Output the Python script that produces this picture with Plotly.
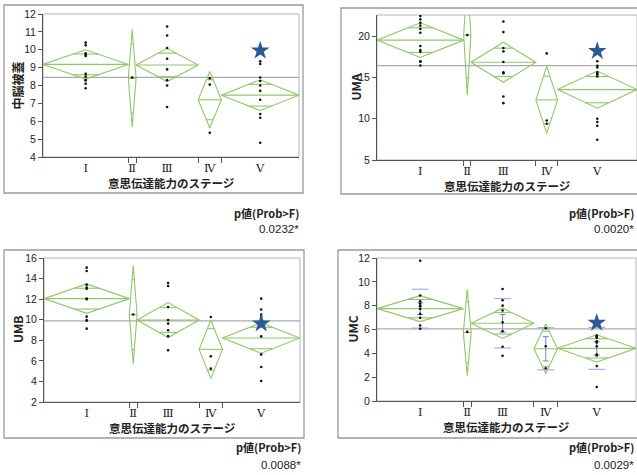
import math
import plotly.graph_objects as go

W, H = 637, 475

# ---------------- data ----------------
stages = ["Ⅰ", "Ⅱ", "Ⅲ", "Ⅳ", "Ⅴ"]

# Panel A: 中脳被蓋
a_n = [11, 1, 8, 3, 10]
a_mean = [9.18, 8.4, 9.15, 7.2, 7.46]
a_ci = [0.82, 2.73, 0.93, 1.58, 0.86]
a_grand = 8.45
a_star = 9.95
a_pts = [
    [10.4, 10.25, 9.8, 9.7, 9.65, 8.65, 8.5, 8.3, 8.3, 8.1, 7.85],
    [8.45],
    [11.3, 10.8, 10.1, 9.5, 8.9, 8.3, 8.0, 6.8],
    [8.4, 8.05, 5.35],
    [9.35, 9.2, 8.45, 8.25, 8.0, 7.7, 7.2, 6.4, 6.2, 4.8],
]
a_p = "0.0232*"

# Panel B: UMA
b_n = [12, 1, 9, 3, 11]
b_mean = [19.51, 20.12, 16.83, 12.28, 13.52]
b_ci = [2.1, 7.27, 2.42, 4.05, 2.25]
b_grand = 16.42
b_star = 18.18
b_pts = [
    [22.43, 22.02, 21.62, 21.26, 20.85, 20.4, 18.79, 18.3, 18.1, 16.96, 16.9, 16.44],
    [20.12],
    [21.77, 20.48, 18.55, 18.15, 16.86, 15.6, 15.5, 12.68, 11.88],
    [17.9, 9.78, 9.38],
    [16.95, 16.4, 16.2, 15.4, 15.35, 15.1, 10.0, 9.6, 9.15, 7.45, 15.6],
]
b_p = "0.0020*"

# Panel C: UMB
c_n = [11, 1, 8, 3, 10]
c_mean = [12.05, 10.5, 9.97, 7.12, 8.22]
c_ci = [1.43, 4.8, 1.7, 2.85, 1.47]
c_grand = 9.88
c_star = 9.62
c_pts = [
    [15.06, 14.74, 13.41, 13.12, 13.0, 12.05, 12.0, 10.3, 9.97, 9.9, 9.13],
    [10.5],
    [13.57, 13.28, 11.24, 9.97, 9.62, 8.97, 8.4, 7.03],
    [10.26, 6.44, 5.24],
    [12.05, 11.0, 10.5, 10.3, 9.95, 9.7, 8.38, 6.63, 5.4, 4.04],
]
c_p = "0.0088*"

# Panel D: UMC
d_n = [11, 1, 8, 3, 10]
d_mean = [7.75, 5.75, 6.52, 4.38, 4.42]
d_ci = [1.09, 3.62, 1.27, 2.08, 1.14]
d_grand = 6.06
d_star = 6.56
d_pts = [
    [11.77, 8.85, 8.37, 8.18, 8.0, 7.95, 7.73, 7.31, 6.98, 6.33, 6.06],
    [5.8],
    [9.4, 8.45, 8.0, 7.6, 6.6, 5.85, 4.55, 3.8],
    [6.1, 4.6, 2.75],
    [5.5, 5.44, 5.3, 5.02, 4.9, 4.6, 3.82, 3.9, 2.93, 1.17],
]
d_sd = [1.63, None, 2.07, 1.77, 1.76]
d_se = [0.49, None, 0.73, 1.02, 0.56]
d_p = "0.0029*"

# ---------------- style ----------------
GREEN = "#90C76C"
GRAY = "#ABABAB"
AXIS = "#555555"
STAR = "#2C5A97"
LAV = "#A4A4E4"
LAV2 = "#7C7CCC"
FONT = "Liberation Sans, Arial, sans-serif"
CJK = "Noto Sans CJK JP"

panels = [
    dict(title="<b>中脳被蓋</b>", n=a_n, mean=a_mean, ci=a_ci, grand=a_grand, star=a_star, pts=a_pts, p=a_p,
         yr=[4, 12], ytv=[4, 5, 6, 7, 8, 9, 10, 11, 12], px=(43, 299), py=(14, 157),
         frame=(4, 5, 303, 193), ytitle_x=17, ptext=(301, 213, 229)),
    dict(title="<b>UMA</b>", n=b_n, mean=b_mean, ci=b_ci, grand=b_grand, star=b_star, pts=b_pts, p=b_p,
         yr=[5, 22.55], ytv=[5, 10, 15, 20], px=(377, 637), py=(15, 160),
         frame=(341, 8, 645, 194), ytitle_x=355, ptext=(636, 213, 229)),
    dict(title="<b>UMB</b>", n=c_n, mean=c_mean, ci=c_ci, grand=c_grand, star=c_star, pts=c_pts, p=c_p,
         yr=[2, 16], ytv=[2, 4, 6, 8, 10, 12, 14, 16], px=(44, 300), py=(258, 402),
         frame=(4, 250, 304, 438), ytitle_x=17, ptext=(303, 447, 465)),
    dict(title="<b>UMC</b>", n=d_n, mean=d_mean, ci=d_ci, grand=d_grand, star=d_star, pts=d_pts, p=d_p,
         yr=[0, 12], ytv=[0, 2, 4, 6, 8, 10, 12], px=(377, 636), py=(258, 401),
         frame=(338, 250, 645, 438), ytitle_x=352, ptext=(636, 447, 465),
         sd=d_sd, se=d_se),
]

fig = go.Figure()
shapes = []
annotations = []
k = 1 - 1 / math.sqrt(2)

for i, p in enumerate(panels):
    sfx = "" if i == 0 else str(i + 1)
    xa, ya = "x" + sfx, "y" + sfx
    n = p["n"]
    total = sum(n)
    bounds = [0]
    for v in n:
        bounds.append(bounds[-1] + v)
    centers = [(bounds[j] + bounds[j + 1]) / 2 for j in range(len(n))]

    # grand mean line
    fig.add_trace(go.Scatter(x=[0, total], y=[p["grand"], p["grand"]], mode="lines",
                             line=dict(color=GRAY, width=1.2), xaxis=xa, yaxis=ya,
                             showlegend=False, hoverinfo="skip"))
    # diamonds
    dx, dy = [], []
    for j in range(len(n)):
        l, r, c = bounds[j], bounds[j + 1], centers[j]
        m, ci = p["mean"][j], p["ci"][j]
        dx += [l, c, r, c, l, None, l, r, None]
        dy += [m, m + ci, m, m - ci, m, None, m, m, None]
        hw = k * (r - l) / 2
        for s in (1, -1):
            dx += [c - hw, c + hw, None]
            dy += [m + s * ci / math.sqrt(2)] * 2 + [None]
    fig.add_trace(go.Scatter(x=dx, y=dy, mode="lines", line=dict(color=GREEN, width=1.1),
                             xaxis=xa, yaxis=ya, showlegend=False, hoverinfo="skip"))

    # std dev lines and error bars (UMC)
    if "sd" in p:
        sx, sy, ex, ey, ee = [], [], [], [], []
        for j in range(len(n)):
            if p["sd"][j] is None:
                continue
            sx += [centers[j], centers[j]]
            sy += [p["mean"][j] + p["sd"][j], p["mean"][j] - p["sd"][j]]
            ex.append(centers[j])
            ey.append(p["mean"][j])
            ee.append(p["se"][j])
        fig.add_trace(go.Scatter(x=sx, y=sy, mode="markers",
                                 marker=dict(symbol="line-ew", size=12, line=dict(color=LAV, width=1.1)),
                                 xaxis=xa, yaxis=ya, showlegend=False, hoverinfo="skip"))
        fig.add_trace(go.Scatter(x=ex, y=ey, mode="markers", marker=dict(size=1, color="rgba(0,0,0,0)"),
                                 error_y=dict(type="data", array=ee, color=LAV2, thickness=1, width=3),
                                 xaxis=xa, yaxis=ya, showlegend=False, hoverinfo="skip"))

    # points
    px_, py_ = [], []
    for j in range(len(n)):
        for v in p["pts"][j]:
            px_.append(centers[j])
            py_.append(v)
    fig.add_trace(go.Scatter(x=px_, y=py_, mode="markers", marker=dict(size=2.6, color="#111111"),
                             xaxis=xa, yaxis=ya, showlegend=False, hoverinfo="skip"))
    # star
    fig.add_trace(go.Scatter(x=[centers[4]], y=[p["star"]], mode="markers",
                             marker=dict(symbol="star", size=14, color=STAR),
                             xaxis=xa, yaxis=ya, showlegend=False, hoverinfo="skip", cliponaxis=False))

    x0, x1 = p["px"]
    y0, y1 = p["py"]
    fig.layout["xaxis" + sfx] = dict(
        domain=[x0 / W, x1 / W], anchor=ya, range=[0, total], showgrid=False, zeroline=False,
        showline=True, linecolor=AXIS, linewidth=1,
        tickmode="array", tickvals=centers, ticktext=stages, ticks="outside", ticklen=0,
        tickfont=dict(family="DejaVu Serif, Liberation Serif, serif", size=11.5, color="#222"),
        minor=dict(tickmode="array", tickvals=bounds[1:-1], ticks="outside", ticklen=5,
                   tickcolor=AXIS, tickwidth=1, showgrid=False),
        fixedrange=True, automargin=False,
    )
    fig.layout["yaxis" + sfx] = dict(
        domain=[1 - y1 / H, 1 - y0 / H], anchor=xa, range=p["yr"], showgrid=False, zeroline=False,
        showline=True, linecolor=AXIS, linewidth=1, tickmode="array", tickvals=p["ytv"],
        ticks="outside", ticklen=4, tickcolor=AXIS,
        tickfont=dict(family=FONT, size=10.5, color="#222"), fixedrange=True, automargin=False,
    )
    # plot frame (top/right)
    shapes.append(dict(type="rect", xref=xa + " domain", yref=ya + " domain", x0=0, x1=1, y0=0, y1=1,
                       line=dict(color="#B5B5B5", width=1), layer="below"))
    # outer panel frame
    fx0, fy0, fx1, fy1 = p["frame"]
    shapes.append(dict(type="rect", xref="paper", yref="paper", x0=fx0 / W, x1=fx1 / W,
                       y0=1 - fy1 / H, y1=1 - fy0 / H, line=dict(color="#9A9A9A", width=1.3)))
    # titles
    annotations.append(dict(text=p["title"], x=p["ytitle_x"] / W, y=1 - (y0 + y1) / 2 / H,
                            xref="paper", yref="paper", showarrow=False, textangle=-90,
                            font=dict(family=CJK, size=12, color="#222"), xanchor="center", yanchor="middle"))
    annotations.append(dict(text="<b>意思伝達能力のステージ</b>", x=(x0 + x1) / 2 / W, y=1 - (y1 + 26) / H,
                            xref="paper", yref="paper", showarrow=False,
                            font=dict(family=CJK, size=11.5, color="#222"), xanchor="center", yanchor="middle"))
    rx, ry1, ry2 = p["ptext"]
    annotations.append(dict(text="<b>p値(Prob>F)</b>", x=rx / W, y=1 - ry1 / H, xref="paper", yref="paper",
                            showarrow=False, font=dict(family=CJK, size=11, color="#222"),
                            xanchor="right", yanchor="middle"))
    annotations.append(dict(text=p["p"], x=rx / W, y=1 - ry2 / H, xref="paper", yref="paper",
                            showarrow=False, font=dict(family=FONT, size=11.5, color="#222"),
                            xanchor="right", yanchor="middle"))

fig.update_layout(width=W, height=H, margin=dict(l=0, r=0, t=0, b=0),
                  paper_bgcolor="white", plot_bgcolor="white", shapes=shapes,
                  annotations=annotations, showlegend=False)
fig.write_html("out.html", config={"displayModeBar": False, "staticPlot": True},
               post_script="document.body.style.margin='0';")
